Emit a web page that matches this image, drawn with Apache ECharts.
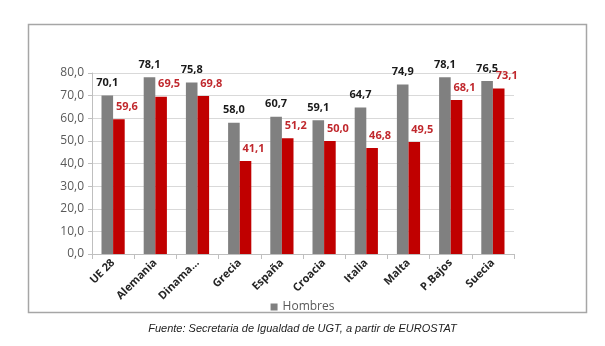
<!DOCTYPE html>
<html>
<head>
<meta charset="utf-8">
<script src="https://cdn.jsdelivr.net/npm/echarts@6/dist/echarts.min.js"></script>
<style>
html,body{margin:0;padding:0;background:#fff;}
#c{width:605px;height:346px;}
</style>
</head>
<body>
<div id="c"></div>
<script>
var categories = ['UE 28','Alemania','Dinama...','Grecia','España','Croacia','Italia','Malta','P.Bajos','Suecia'];
var hombres = [70.1,78.1,75.8,58.0,60.7,59.1,64.7,74.9,78.1,76.5];
var mujeres = [59.6,69.5,69.8,41.1,51.2,50.0,46.8,49.5,68.1,73.1];
var yTicks = [0,10,20,30,40,50,60,70,80];
var sourceText = 'Fuente: Secretaria de Igualdad de UGT, a partir de EUROSTAT';

var chart = echarts.init(document.getElementById('c'), null, {renderer:'canvas'});
function fmt(v){ return v.toFixed(1).replace('.', ','); }
chart.setOption({
  animation:false,
  textStyle:{fontFamily:'Open Sans, Liberation Sans, sans-serif'},
  grid:{left:92, right:91, top:73, bottom:92, containLabel:false},
  graphic:[
    {type:'rect', shape:{x:28.5, y:24.5, width:558, height:288}, style:{fill:'none', stroke:'#a6a6a6', lineWidth:1.5}, z:-1},
    {type:'text', left:'center', top:323, style:{text:sourceText, font:'italic 11px "Liberation Sans", Arial, sans-serif', fill:'#222'}}
  ],
  legend:{data:['Hombres'], top:296, left:'center', itemWidth:7, itemHeight:7, icon:'rect', itemGap:4,
    textStyle:{color:'#595959', fontSize:12, fontFamily:'Open Sans, sans-serif'}},
  xAxis:{type:'category', data:categories,
    axisLine:{lineStyle:{color:'#bfbfbf'}},
    axisTick:{show:true, length:5, lineStyle:{color:'#bfbfbf'}},
    axisLabel:{rotate:45, interval:0, color:'#262626', fontSize:11, fontWeight:'bold', margin:7}},
  yAxis:{type:'value', min:0, max:80, interval:10,
    axisLine:{show:true, lineStyle:{color:'#bfbfbf'}},
    axisTick:{show:true, length:4, lineStyle:{color:'#bfbfbf'}},
    splitLine:{lineStyle:{color:'#d9d9d9'}},
    axisLabel:{color:'#595959', fontSize:12, margin:8, formatter:function(v){return fmt(v);}}},
  series:[
    {name:'Hombres', type:'bar', data:hombres, barGap:'0%', barCategoryGap:'45%',
      itemStyle:{color:'#808080'},
      label:{show:true, position:'top', distance:5, offset:[0,-2], color:'#1a1a1a', fontWeight:'bold', fontSize:11,
        formatter:function(p){return fmt(p.value);}}},
    {name:'Mujeres', type:'bar', data:mujeres,
      itemStyle:{color:'#c00000'},
      label:{show:true, position:'top', distance:5, offset:[8,-2], color:'#c0282d', fontWeight:'bold', fontSize:11,
        formatter:function(p){return fmt(p.value);}}}
  ]
});
</script>
</body>
</html>
